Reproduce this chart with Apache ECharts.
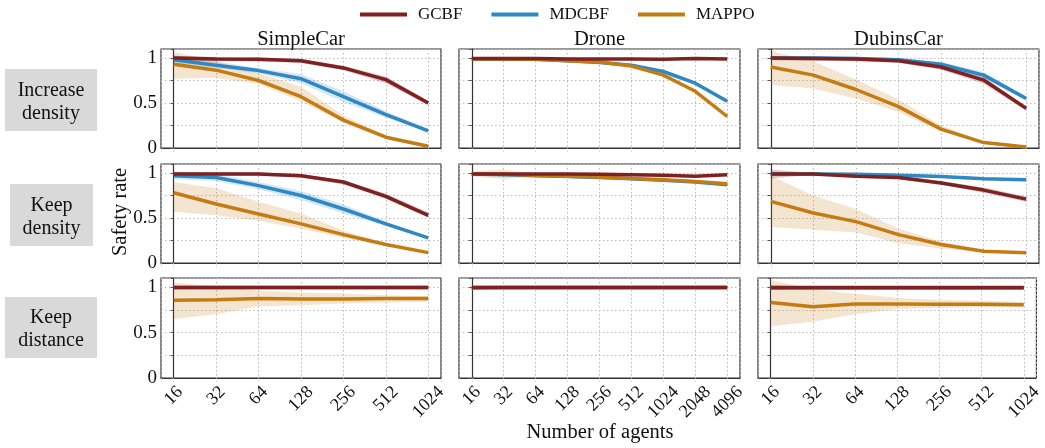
<!DOCTYPE html>
<html><head><meta charset="utf-8">
<script src="https://cdn.jsdelivr.net/npm/echarts@6/dist/echarts.min.js"></script>
<style>html,body{margin:0;padding:0;background:#fff}#c{width:1045px;height:448px}</style>
</head><body><div id="c"></div>
<script>
// ---------- labels ----------
const methods = ['GCBF', 'MDCBF', 'MAPPO'];
const envs = ['SimpleCar', 'Drone', 'DubinsCar'];
const settings = [['Increase', 'density'], ['Keep', 'density'], ['Keep', 'distance']];
const agents7 = ['16', '32', '64', '128', '256', '512', '1024'];
const agents9 = ['16', '32', '64', '128', '256', '512', '1024', '2048', '4096'];
const yTickLabels = ['0', '0.5', '1'];

// ---------- Increase density ----------
const sc_inc_gcbf    = [1.00, 0.99, 0.985, 0.97, 0.89, 0.76, 0.50];
const sc_inc_gcbf_lo = [0.975, 0.965, 0.96, 0.945, 0.865, 0.72, 0.475];
const sc_inc_gcbf_hi = [1.025, 1.01, 1.005, 0.99, 0.915, 0.795, 0.525];
const sc_inc_mdcbf    = [0.98, 0.92, 0.86, 0.77, 0.57, 0.37, 0.19];
const sc_inc_mdcbf_lo = [0.94, 0.89, 0.83, 0.72, 0.51, 0.34, 0.18];
const sc_inc_mdcbf_hi = [1.03, 0.96, 0.89, 0.82, 0.63, 0.41, 0.21];
const sc_inc_mappo    = [0.93, 0.865, 0.75, 0.57, 0.31, 0.12, 0.02];
const sc_inc_mappo_lo = [0.77, 0.78, 0.71, 0.52, 0.28, 0.10, 0.00];
const sc_inc_mappo_hi = [1.07, 0.96, 0.83, 0.68, 0.36, 0.14, 0.03];

const dr_inc_gcbf    = [0.995, 0.995, 0.995, 0.99, 0.99, 0.99, 0.985, 0.995, 0.99];
const dr_inc_gcbf_lo = [0.985, 0.985, 0.985, 0.98, 0.98, 0.98, 0.975, 0.985, 0.98];
const dr_inc_gcbf_hi = [1.005, 1.005, 1.005, 1.0, 1.0, 1.0, 0.995, 1.005, 1.0];
const dr_inc_mdcbf    = [0.99, 0.99, 0.985, 0.97, 0.95, 0.92, 0.85, 0.72, 0.52];
const dr_inc_mdcbf_lo = [0.98, 0.98, 0.975, 0.955, 0.935, 0.905, 0.835, 0.70, 0.50];
const dr_inc_mdcbf_hi = [1.0, 1.0, 0.995, 0.985, 0.965, 0.935, 0.865, 0.74, 0.54];
const dr_inc_mappo    = [0.99, 0.99, 0.985, 0.97, 0.955, 0.91, 0.81, 0.63, 0.35];
const dr_inc_mappo_lo = [0.98, 0.98, 0.975, 0.96, 0.945, 0.90, 0.80, 0.62, 0.34];
const dr_inc_mappo_hi = [1.0, 1.0, 0.995, 0.98, 0.965, 0.92, 0.82, 0.64, 0.36];

const du_inc_gcbf    = [1.00, 0.995, 0.99, 0.97, 0.90, 0.755, 0.44];
const du_inc_gcbf_lo = [0.975, 0.97, 0.965, 0.945, 0.87, 0.715, 0.415];
const du_inc_gcbf_hi = [1.02, 1.015, 1.01, 0.99, 0.925, 0.79, 0.465];
const du_inc_mdcbf    = [1.00, 1.00, 0.995, 0.98, 0.93, 0.81, 0.55];
const du_inc_mdcbf_lo = [0.975, 0.975, 0.975, 0.96, 0.905, 0.775, 0.525];
const du_inc_mdcbf_hi = [1.02, 1.02, 1.015, 1.0, 0.955, 0.845, 0.575];
const du_inc_mappo    = [0.90, 0.81, 0.65, 0.46, 0.21, 0.06, 0.01];
const du_inc_mappo_lo = [0.70, 0.66, 0.55, 0.40, 0.18, 0.05, 0.00];
const du_inc_mappo_hi = [1.08, 0.96, 0.76, 0.54, 0.25, 0.075, 0.015];

// ---------- Keep density ----------
const sc_kd_gcbf    = [0.99, 0.99, 0.99, 0.97, 0.90, 0.74, 0.53];
const sc_kd_gcbf_lo = [0.97, 0.97, 0.97, 0.95, 0.875, 0.71, 0.505];
const sc_kd_gcbf_hi = [1.01, 1.01, 1.005, 0.99, 0.92, 0.77, 0.56];
const sc_kd_mdcbf    = [0.97, 0.95, 0.86, 0.75, 0.60, 0.435, 0.28];
const sc_kd_mdcbf_lo = [0.93, 0.91, 0.82, 0.70, 0.55, 0.41, 0.27];
const sc_kd_mdcbf_hi = [1.02, 0.99, 0.90, 0.80, 0.65, 0.46, 0.29];
const sc_kd_mappo    = [0.78, 0.655, 0.545, 0.435, 0.315, 0.205, 0.115];
const sc_kd_mappo_lo = [0.57, 0.53, 0.47, 0.38, 0.28, 0.19, 0.11];
const sc_kd_mappo_hi = [0.90, 0.83, 0.68, 0.55, 0.36, 0.22, 0.125];

const dr_kd_gcbf    = [0.99, 0.99, 0.99, 0.99, 0.985, 0.98, 0.975, 0.965, 0.98];
const dr_kd_gcbf_lo = [0.98, 0.98, 0.98, 0.98, 0.975, 0.97, 0.965, 0.955, 0.97];
const dr_kd_gcbf_hi = [1.0, 1.0, 1.0, 1.0, 0.995, 0.99, 0.985, 0.975, 0.99];
const dr_kd_mdcbf    = [0.99, 0.98, 0.97, 0.96, 0.95, 0.935, 0.92, 0.90, 0.87];
const dr_kd_mdcbf_lo = [0.98, 0.97, 0.96, 0.95, 0.94, 0.925, 0.91, 0.89, 0.86];
const dr_kd_mdcbf_hi = [1.0, 0.99, 0.98, 0.97, 0.96, 0.945, 0.93, 0.91, 0.88];
const dr_kd_mappo    = [0.99, 0.985, 0.975, 0.965, 0.955, 0.94, 0.925, 0.905, 0.88];
const dr_kd_mappo_lo = [0.96, 0.93, 0.96, 0.955, 0.945, 0.93, 0.915, 0.895, 0.87];
const dr_kd_mappo_hi = [1.02, 1.04, 0.99, 0.975, 0.965, 0.95, 0.935, 0.915, 0.89];

const du_kd_gcbf    = [0.99, 0.99, 0.965, 0.95, 0.89, 0.81, 0.71];
const du_kd_gcbf_lo = [0.94, 0.98, 0.95, 0.93, 0.87, 0.78, 0.68];
const du_kd_gcbf_hi = [1.04, 1.00, 0.98, 0.965, 0.91, 0.84, 0.74];
const du_kd_mdcbf    = [0.99, 0.99, 0.985, 0.975, 0.96, 0.935, 0.925];
const du_kd_mdcbf_lo = [0.975, 0.975, 0.97, 0.96, 0.945, 0.92, 0.91];
const du_kd_mdcbf_hi = [1.005, 1.005, 1.0, 0.99, 0.975, 0.95, 0.94];
const du_kd_mappo    = [0.685, 0.555, 0.46, 0.315, 0.205, 0.13, 0.115];
const du_kd_mappo_lo = [0.40, 0.37, 0.34, 0.22, 0.16, 0.12, 0.11];
const du_kd_mappo_hi = [0.97, 0.75, 0.60, 0.38, 0.24, 0.14, 0.12];

// ---------- Keep distance ----------
const sc_kdist_gcbf    = [0.995, 0.995, 0.995, 0.995, 0.995, 0.995, 0.995];
const sc_kdist_gcbf_lo = [0.985, 0.99, 0.99, 0.99, 0.99, 0.99, 0.99];
const sc_kdist_gcbf_hi = [1.005, 1.0, 1.0, 1.0, 1.0, 1.0, 1.0];
const sc_kdist_mdcbf    = [0.995, 0.995, 0.995, 0.995, 0.995, 0.995, 0.995];
const sc_kdist_mdcbf_lo = [0.985, 0.99, 0.99, 0.99, 0.99, 0.99, 0.99];
const sc_kdist_mdcbf_hi = [1.005, 1.0, 1.0, 1.0, 1.0, 1.0, 1.0];
const sc_kdist_mappo    = [0.855, 0.86, 0.875, 0.87, 0.87, 0.875, 0.875];
const sc_kdist_mappo_lo = [0.65, 0.70, 0.79, 0.80, 0.82, 0.83, 0.84];
const sc_kdist_mappo_hi = [1.05, 1.00, 0.96, 0.94, 0.93, 0.91, 0.90];

const dr_kdist_gcbf    = [0.995, 0.995, 0.995, 0.995, 0.995, 0.995, 0.995, 0.995, 0.995];
const dr_kdist_gcbf_lo = [0.99, 0.99, 0.99, 0.99, 0.99, 0.99, 0.99, 0.99, 0.99];
const dr_kdist_gcbf_hi = [1.0, 1.0, 1.0, 1.0, 1.0, 1.0, 1.0, 1.0, 1.0];
const dr_kdist_mdcbf    = [0.995, 0.995, 0.995, 0.995, 0.995, 0.995, 0.995, 0.995, 0.995];
const dr_kdist_mdcbf_lo = [0.99, 0.99, 0.99, 0.99, 0.99, 0.99, 0.99, 0.99, 0.99];
const dr_kdist_mdcbf_hi = [1.0, 1.0, 1.0, 1.0, 1.0, 1.0, 1.0, 1.0, 1.0];
const dr_kdist_mappo    = [0.99, 0.995, 0.995, 0.995, 0.995, 0.995, 0.995, 0.995, 0.995];
const dr_kdist_mappo_lo = [0.97, 0.99, 0.99, 0.99, 0.99, 0.99, 0.99, 0.99, 0.99];
const dr_kdist_mappo_hi = [1.01, 1.0, 1.0, 1.0, 1.0, 1.0, 1.0, 1.0, 1.0];

const du_kdist_gcbf    = [0.995, 0.995, 0.995, 0.995, 0.995, 0.995, 0.995];
const du_kdist_gcbf_lo = [0.97, 0.99, 0.99, 0.99, 0.99, 0.99, 0.99];
const du_kdist_gcbf_hi = [1.02, 1.0, 1.0, 1.0, 1.0, 1.0, 1.0];
const du_kdist_mdcbf    = [0.99, 0.99, 0.99, 0.99, 0.99, 0.99, 0.99];
const du_kdist_mdcbf_lo = [0.98, 0.985, 0.985, 0.985, 0.985, 0.985, 0.985];
const du_kdist_mdcbf_hi = [1.0, 0.995, 0.995, 0.995, 0.995, 0.995, 0.995];
const du_kdist_mappo    = [0.83, 0.785, 0.815, 0.815, 0.81, 0.81, 0.805];
const du_kdist_mappo_lo = [0.57, 0.62, 0.70, 0.76, 0.77, 0.78, 0.78];
const du_kdist_mappo_hi = [1.08, 0.97, 0.93, 0.88, 0.86, 0.85, 0.84];

// ---------- panel table (row-major) ----------
const panels = [
  [[sc_inc_gcbf, sc_inc_gcbf_lo, sc_inc_gcbf_hi], [sc_inc_mdcbf, sc_inc_mdcbf_lo, sc_inc_mdcbf_hi], [sc_inc_mappo, sc_inc_mappo_lo, sc_inc_mappo_hi]],
  [[dr_inc_gcbf, dr_inc_gcbf_lo, dr_inc_gcbf_hi], [dr_inc_mdcbf, dr_inc_mdcbf_lo, dr_inc_mdcbf_hi], [dr_inc_mappo, dr_inc_mappo_lo, dr_inc_mappo_hi]],
  [[du_inc_gcbf, du_inc_gcbf_lo, du_inc_gcbf_hi], [du_inc_mdcbf, du_inc_mdcbf_lo, du_inc_mdcbf_hi], [du_inc_mappo, du_inc_mappo_lo, du_inc_mappo_hi]],
  [[sc_kd_gcbf, sc_kd_gcbf_lo, sc_kd_gcbf_hi], [sc_kd_mdcbf, sc_kd_mdcbf_lo, sc_kd_mdcbf_hi], [sc_kd_mappo, sc_kd_mappo_lo, sc_kd_mappo_hi]],
  [[dr_kd_gcbf, dr_kd_gcbf_lo, dr_kd_gcbf_hi], [dr_kd_mdcbf, dr_kd_mdcbf_lo, dr_kd_mdcbf_hi], [dr_kd_mappo, dr_kd_mappo_lo, dr_kd_mappo_hi]],
  [[du_kd_gcbf, du_kd_gcbf_lo, du_kd_gcbf_hi], [du_kd_mdcbf, du_kd_mdcbf_lo, du_kd_mdcbf_hi], [du_kd_mappo, du_kd_mappo_lo, du_kd_mappo_hi]],
  [[sc_kdist_gcbf, sc_kdist_gcbf_lo, sc_kdist_gcbf_hi], [sc_kdist_mdcbf, sc_kdist_mdcbf_lo, sc_kdist_mdcbf_hi], [sc_kdist_mappo, sc_kdist_mappo_lo, sc_kdist_mappo_hi]],
  [[dr_kdist_gcbf, dr_kdist_gcbf_lo, dr_kdist_gcbf_hi], [dr_kdist_mdcbf, dr_kdist_mdcbf_lo, dr_kdist_mdcbf_hi], [dr_kdist_mappo, dr_kdist_mappo_lo, dr_kdist_mappo_hi]],
  [[du_kdist_gcbf, du_kdist_gcbf_lo, du_kdist_gcbf_hi], [du_kdist_mdcbf, du_kdist_mdcbf_lo, du_kdist_mdcbf_hi], [du_kdist_mappo, du_kdist_mappo_lo, du_kdist_mappo_hi]]
];

// ---------- styling ----------
const FONT = 'Liberation Serif';
const colors = {GCBF: '#7d2121', MDCBF: '#2e88c4', MAPPO: '#c47c12'};
const bandOpacity = {GCBF: 0.25, MDCBF: 0.2, MAPPO: 0.2};
const lineZ = {GCBF: 4, MDCBF: 2, MAPPO: 3};
const colLeft = [161, 459, 758];
const colWidth = [280, 281, 281];
const rowTop = [49, 164, 278];
const rowHeight = [99, 99, 100];
const XFS = 18; // x tick label font size

// rich styles so that each rotated label is centred under its tick (matplotlib style)
const xRich = {};
[1, 2, 3, 4].forEach(n => {
  const p = (n * XFS * 0.5 + XFS) / 2;
  xRich['l' + n] = {fontFamily: FONT, fontSize: XFS, color: '#111', padding: [p, p, 0, 0]};
});

const grids = [], xAxes = [], yAxes = [], series = [];
for (let r = 0; r < 3; r++) {
  for (let c = 0; c < 3; c++) {
    const gi = r * 3 + c;
    const labels = c === 1 ? agents9 : agents7;
    const pad = c === 1 ? 0.4 : 0.3;
    grids.push({left: colLeft[c], top: rowTop[r], width: colWidth[c], height: rowHeight[r],
      show: true, borderColor: '#333', borderWidth: 1.2, backgroundColor: 'transparent'});
    xAxes.push({type: 'value', gridIndex: gi, min: -pad, max: labels.length - 1 + pad,
      minInterval: 1, maxInterval: 1,
      axisLine: {show: true, lineStyle: {color: '#333', width: 1.2}},
      axisTick: {show: true, length: 4, lineStyle: {color: '#aaa', type: [1.5, 2]}},
      splitLine: {show: true, lineStyle: {color: '#bbb', width: 1, type: [1.5, 2.5]}},
      axisLabel: {show: r === 2, rotate: 45, margin: 5, align: 'center', verticalAlign: 'middle',
        rich: xRich,
        formatter: v => {
          if (!(Number.isInteger(v) && v >= 0 && v < labels.length)) return '';
          const s = labels[v];
          return '{l' + s.length + '|' + s + '}';
        }}
    });
    yAxes.push({type: 'value', gridIndex: gi, min: 0, max: 1.1, interval: 0.25,
      axisLine: {show: true, lineStyle: {color: '#333', width: 1.2}},
      axisTick: {show: true, length: 3, lineStyle: {color: '#555'}},
      splitLine: {show: true, lineStyle: {color: '#bbb', width: 1, type: [1.5, 2.5]}},
      axisLabel: {show: c === 0, margin: 4, fontFamily: FONT, fontSize: 19, color: '#111',
        formatter: v => { const s = String(Math.round(v * 1000) / 1000); return yTickLabels.includes(s) ? s : ''; }}
    });
    const xs = labels.map((_, i) => i);
    methods.forEach((m, mi) => {
      const [mean, lo, hi] = panels[gi][mi];
      series.push({
        type: 'custom', name: m + ' band', xAxisIndex: gi, yAxisIndex: gi, z: 1, silent: true,
        data: xs.map((x, i) => [x, lo[i], hi[i]]),
        renderItem: (params, api) => {
          if (params.dataIndex !== 0) return null;
          const up = xs.map((x, i) => api.coord([x, hi[i]]));
          const dn = xs.map((x, i) => api.coord([x, lo[i]])).reverse();
          return {type: 'polygon', shape: {points: up.concat(dn)},
            style: {fill: colors[m], opacity: bandOpacity[m]}};
        }
      });
      series.push({
        type: 'line', name: m, xAxisIndex: gi, yAxisIndex: gi, z: lineZ[m],
        data: xs.map((x, i) => [x, mean[i]]),
        symbol: 'none', smooth: false, color: colors[m],
        lineStyle: {color: colors[m], width: 3.5}
      });
    });
  }
}

const graphic = [];
// column titles
envs.forEach((e, c) => graphic.push({type: 'text', x: colLeft[c] + colWidth[c] / 2, y: 40,
  style: {text: e, font: '20.5px "' + FONT + '"', fill: '#111', align: 'center', verticalAlign: 'middle'}}));
// row label boxes
const boxes = [[5, 69, 92, 62], [10, 184, 83, 62], [5, 297, 92, 61]];
settings.forEach((s, r) => {
  const [bx, by, bw, bh] = boxes[r];
  graphic.push({type: 'rect', shape: {x: bx, y: by, width: bw, height: bh}, style: {fill: '#d9d9d9'}});
  graphic.push({type: 'text', x: bx + bw / 2, y: by + bh / 2 + 2,
    style: {text: s.join('\n'), font: '20px "' + FONT + '"', lineHeight: 23, fill: '#111', align: 'center', verticalAlign: 'middle'}});
});
// axis titles
graphic.push({type: 'text', x: 121, y: 212, rotation: Math.PI / 2,
  style: {text: 'Safety rate', font: '20.5px "' + FONT + '"', fill: '#111', align: 'center', verticalAlign: 'middle'}});
graphic.push({type: 'text', x: 600, y: 433,
  style: {text: 'Number of agents', font: '20.5px "' + FONT + '"', fill: '#111', align: 'center', verticalAlign: 'middle'}});

const chart = echarts.init(document.getElementById('c'), null, {renderer: 'canvas'});
chart.setOption({
  animation: false,
  backgroundColor: '#fff',
  legend: {data: methods, left: 355, top: 1, icon: 'rect', itemWidth: 47, itemHeight: 4, itemGap: 29,
    textStyle: {fontFamily: FONT, fontSize: 17, color: '#111', padding: [0, 0, 0, 6]}},
  grid: grids, xAxis: xAxes, yAxis: yAxes, series: series, graphic: graphic
});
</script></body></html>
